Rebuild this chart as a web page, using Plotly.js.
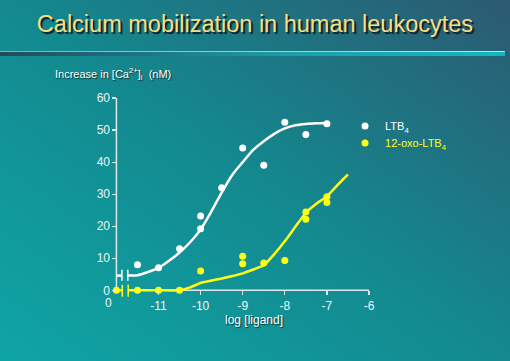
<!DOCTYPE html>
<html><head><meta charset="utf-8">
<script src="https://cdn.plot.ly/plotly-3.0.1.min.js"></script>
<style>
html,body{margin:0;padding:0;}
#wrap{position:relative;width:510px;height:361px;overflow:hidden;background:linear-gradient(to top right,#0fa5a5 0%,#13898f 50%,#2c5a72 100%);}
#chart{position:absolute;left:0;top:0;width:510px;height:361px;}
.rule{position:absolute;left:0;width:505px;}
</style></head><body>
<div id="wrap">
<div class="rule" style="top:51px;height:1px;background:linear-gradient(to right,#6fb8bc,#a8eef0);"></div>
<div class="rule" style="top:52px;height:4px;background:linear-gradient(to right,#26495a,#1aa2ac 60%,#12b8c0);"></div>
<div id="chart"></div>
</div>
<script>
// ---- data ----
const zeroDose = -12;               // log position used for the zero-concentration point
const tickVals = [-11, -10, -9, -8, -7, -6];
const tickText = ['-11', '-10', '-9', '-8', '-7', '-6'];
const yTicks = [0, 10, 20, 30, 40, 50, 60];

const ltb4X = [-11.5, -11, -10.5, -10, -10, -9.5, -9, -8.5, -8, -7.5, -7];
const ltb4Y = [8, 7, 13, 23.2, 19.2, 32, 44.4, 39, 52.4, 48.6, 52];
const oxoX = [-12, -11.5, -11, -10.5, -10, -9, -9, -8.5, -8, -7.5, -7.5, -7, -7];
const oxoY = [0, 0, 0, 0, 6, 10.6, 8.3, 8.5, 9.3, 22.2, 24.4, 27.4, 29.2];

const ltb4FitX = [-12, -11.87, -11.8, -11.73, -11.5, -11.25, -11, -10.75, -10.5, -10.25, -10, -9.75, -9.5, -9.25, -9, -8.75, -8.5, -8.25, -8, -7.75, -7.5, -7.25, -7];
const ltb4FitY = [4.6, 4.6, null, 4.6, 4.7, 5.7, 7, 9.2, 11.8, 15, 19, 24.5, 30.5, 36, 40, 43.8, 46.5, 48.8, 50.5, 51.5, 51.9, 52.1, 52.2];
const oxoFitX = [-12, -11.86, -11.79, -11.72, -11.5, -11, -10.5, -10.25, -10, -9.5, -9, -8.5, -8.27, -8, -7.75, -7.5, -7.25, -7, -6.75, -6.5];
const oxoFitY = [0, 0, null, 0, 0, 0, 0, 0.9, 2.3, 3.7, 5.3, 7.8, 11, 15.3, 19.8, 24.2, 27, 29.3, 32.8, 36.2];

// ---- style / geometry ----
const breakX = [-11.87, -11.73];
const WHITE = '#ffffff', YEL = '#ffff14', AX = '#dde8e8';
const FONT = 'Liberation Sans, Arial, sans-serif';
const X0 = -12.2, X1 = -6, Y0 = -2.4, Y1 = 60;
const PX_L = 107.57, PX_R = 369, PX_T = 98, PX_B = 298.2;
const pw = PX_R - PX_L, ph = PX_B - PX_T;
const pX = p => (p - PX_L) / pw;
const pY = p => (PX_B - p) / ph;
const shadow = '1px 1px 1px #0b2f33';

const traces = [
  {x: ltb4FitX, y: ltb4FitY, mode: 'lines', line: {color: WHITE, width: 2.5, shape: 'spline', smoothing: 0.6}, connectgaps: false, showlegend: false, hoverinfo: 'skip'},
  {x: oxoFitX, y: oxoFitY, mode: 'lines', line: {color: YEL, width: 2.5, shape: 'spline', smoothing: 0.4}, connectgaps: false, showlegend: false, hoverinfo: 'skip'},
  {x: ltb4X, y: ltb4Y, mode: 'markers', name: 'LTB<sub>4</sub>', legend: 'legend', marker: {color: WHITE, size: 7}, cliponaxis: false},
  {x: oxoX, y: oxoY, mode: 'markers', name: '<span style="color:' + YEL + '">12-oxo-LTB<sub>4</sub></span>', legend: 'legend2', marker: {color: YEL, size: 7}, cliponaxis: false}
];

const shapes = [
  {type: 'line', xref: 'x', yref: 'y', x0: zeroDose, x1: zeroDose, y0: 0, y1: 60, line: {color: AX, width: 1.5}, layer: 'below'},
  {type: 'line', xref: 'x', yref: 'y', x0: zeroDose, x1: breakX[0], y0: 0, y1: 0, line: {color: AX, width: 1.5}, layer: 'below'},
  {type: 'line', xref: 'x', yref: 'y', x0: breakX[1], x1: X1, y0: 0, y1: 0, line: {color: AX, width: 1.5}, layer: 'below'},
  {type: 'line', xref: 'x', yref: 'y', x0: breakX[0], x1: breakX[0], y0: 3.0, y1: 6.4, line: {color: WHITE, width: 1.5}},
  {type: 'line', xref: 'x', yref: 'y', x0: breakX[1], x1: breakX[1], y0: 3.0, y1: 6.4, line: {color: WHITE, width: 1.5}},
  {type: 'line', xref: 'x', yref: 'y', x0: breakX[0] + 0.01, x1: breakX[0] + 0.01, y0: -2, y1: 1.7, line: {color: YEL, width: 1.5}},
  {type: 'line', xref: 'x', yref: 'y', x0: breakX[1] + 0.01, x1: breakX[1] + 0.01, y0: -2, y1: 1.7, line: {color: YEL, width: 1.5}}
];

const tickFont = {family: FONT, size: 12, color: '#eef6f6'};
const legendBase = {xanchor: 'left', yanchor: 'middle', bgcolor: 'rgba(0,0,0,0)', font: {family: FONT, size: 11, color: WHITE}};
const layout = {
  width: 510, height: 361, autosize: false,
  margin: {l: PX_L, r: 510 - PX_R, t: PX_T, b: 361 - PX_B, pad: 0},
  paper_bgcolor: 'rgba(0,0,0,0)', plot_bgcolor: 'rgba(0,0,0,0)',
  title: {text: 'Calcium mobilization in human leukocytes', x: 0.5, xref: 'container', xanchor: 'center',
          y: 1 - 24 / 361, yref: 'container', yanchor: 'middle',
          font: {family: FONT, size: 23.5, color: '#f6de88', shadow: '2px 2px 1px #101c1c'}},
  xaxis: {range: [X0, X1], anchor: 'free', position: (0 - Y0) / (Y1 - Y0), showline: false, showgrid: false, zeroline: false,
          tickmode: 'array', tickvals: tickVals, ticktext: tickText, ticks: 'outside', ticklen: 4, tickwidth: 1.2, tickcolor: AX, tickfont: tickFont},
  yaxis: {range: [Y0, Y1], anchor: 'free', position: (zeroDose - X0) / (X1 - X0), showline: false, showgrid: false, zeroline: false,
          tickmode: 'array', tickvals: yTicks, ticks: 'outside', ticklen: 4, tickwidth: 1.2, tickcolor: AX, tickfont: tickFont},
  showlegend: true,
  legend: Object.assign({x: pX(345), y: pY(126)}, legendBase),
  legend2: Object.assign({x: pX(345), y: pY(143)}, legendBase),
  shapes: shapes,
  annotations: [
    {text: '0', xref: 'x', yref: 'y', x: zeroDose, y: 0, xshift: -8, yshift: -13, showarrow: false, font: tickFont},
    {text: 'log [ligand]', xref: 'paper', yref: 'paper', x: pX(254.3), y: pY(320), xanchor: 'center', yanchor: 'middle', showarrow: false,
     font: {family: FONT, size: 12, color: WHITE, shadow: shadow}},
    {text: 'Increase in [Ca<sup>2+</sup>]<sub>i</sub>  (nM)', xref: 'paper', yref: 'paper', x: pX(52.7), y: pY(74.3), xanchor: 'left', yanchor: 'middle', showarrow: false,
     font: {family: FONT, size: 11, color: WHITE, shadow: shadow}}
  ],
  hovermode: false
};

Plotly.newPlot('chart', traces, layout, {staticPlot: true, displayModeBar: false});
</script>
</body></html>
